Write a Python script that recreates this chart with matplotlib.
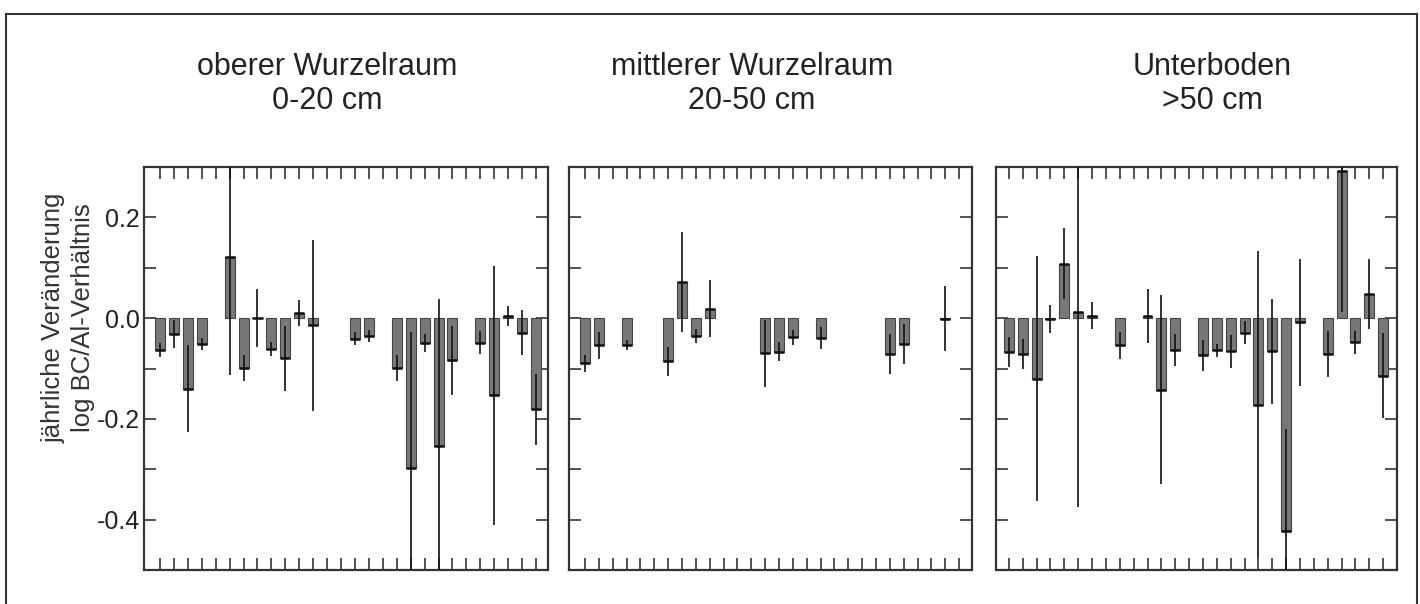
import numpy as np
import matplotlib
matplotlib.use("Agg")
import matplotlib.pyplot as plt
from matplotlib.lines import Line2D

plt.rcParams['font.family'] = ['Liberation Sans', 'DejaVu Sans']

# panel titles
titles = ["oberer Wurzelraum\n0-20 cm",
          "mittlerer Wurzelraum\n20-50 cm",
          "Unterboden\n>50 cm"]

ylabel = "jährliche Veränderung\nlog BC/Al-Verhältnis"

# oberer Wurzelraum 0-20 cm
pos_oben = [0, 1, 2, 3, 5, 6, 7, 8, 9, 10, 11, 14, 15, 17, 18, 19, 20, 21, 23, 24, 25, 26, 27]
val_oben = [-0.063, -0.032, -0.140, -0.051, 0.122, -0.099, 0.0, -0.061, -0.080, 0.010, -0.014,
            -0.041, -0.036, -0.099, -0.297, -0.049, -0.253, -0.084, -0.049, -0.153, 0.004,
            -0.029, -0.181]
err_oben = [0.014, 0.028, 0.086, 0.012, 0.234, 0.026, 0.058, 0.014, 0.064, 0.026, 0.170,
            0.013, 0.012, 0.026, 0.270, 0.018, 0.290, 0.069, 0.023, 0.257, 0.020, 0.045, 0.071]

# mittlerer Wurzelraum 20-50 cm
pos_mitte = [0, 1, 3, 6, 7, 8, 9, 13, 14, 15, 17, 22, 23, 26]
val_mitte = [-0.090, -0.054, -0.054, -0.086, 0.072, -0.036, 0.019, -0.070, -0.067, -0.038,
             -0.040, -0.071, -0.051, -0.001]
err_mitte = [0.017, 0.027, 0.010, 0.029, 0.099, 0.014, 0.056, 0.066, 0.019, 0.015, 0.022,
             0.039, 0.040, 0.064]

# Unterboden >50 cm
pos_unten = [0, 1, 2, 3, 4, 5, 6, 8, 10, 11, 12, 14, 15, 16, 17, 18, 19, 20, 21, 23, 24, 25, 26, 27]
val_unten = [-0.068, -0.071, -0.120, -0.001, 0.108, 0.013, 0.005, -0.054, 0.004, -0.142,
             -0.064, -0.074, -0.064, -0.066, -0.029, -0.172, -0.066, -0.423, -0.008, -0.071,
             0.292, -0.048, 0.048, -0.114]
err_unten = [0.030, 0.030, 0.243, 0.028, 0.070, 0.387, 0.027, 0.027, 0.054, 0.187, 0.032,
             0.030, 0.013, 0.033, 0.023, 0.305, 0.104, 0.203, 0.126, 0.046, 0.280, 0.023,
             0.070, 0.085]

panels = [(pos_oben, val_oben, err_oben),
          (pos_mitte, val_mitte, err_mitte),
          (pos_unten, val_unten, err_unten)]

yticks = [-0.4, -0.3, -0.2, -0.1, 0.0, 0.1, 0.2]
ytick_labels = ["-0.4", "", "-0.2", "", "0.0", "", "0.2"]
n_slots = 28

W, H = 1420, 604
fig = plt.figure(figsize=(W / 100, H / 100), dpi=100)

# axes boxes in pixels: left, right, x limits, title centre
boxes = [(144, 548, (-1.15, 27.86), 327),
         (569, 972, (-1.15, 27.93), 752),
         (996, 1397, (-0.93, 28.0), 1212)]
top_px, bot_px = 167, 570

edge = '#333333'
bar_w = 0.72

for i, ((pos, val, err), (l, r, xlim, tx)) in enumerate(zip(panels, boxes)):
    ax = fig.add_axes([l / W, 1 - bot_px / H, (r - l) / W, (bot_px - top_px) / H])
    pos = np.array(pos)
    val = np.array(val)
    err = np.array(err)

    ax.bar(pos, val, width=bar_w, color='#787878', edgecolor='#444444', linewidth=0.8, zorder=2)
    ax.hlines(val, pos - bar_w / 2, pos + bar_w / 2, color='#111111', lw=1.8, zorder=3)
    ax.vlines(pos, val - err, val + err, color='#111111', lw=1.2, zorder=4)

    ax.set_xlim(*xlim)
    ax.set_ylim(-0.5, 0.3)
    ax.set_xticks(np.arange(n_slots))
    ax.set_xticklabels([])
    ax.set_yticks(yticks)
    if i == 0:
        ax.set_yticklabels(ytick_labels, fontsize=18, color='#222222')
    else:
        ax.set_yticklabels([])
    ax.tick_params(axis='both', direction='in', length=8.5, width=1.2, color=edge,
                   top=True, bottom=True, left=True, right=True, pad=3)
    for s in ax.spines.values():
        s.set_linewidth(1.6)
        s.set_color(edge)

    fig.text(tx / W, 1 - 84 / H, titles[i], ha='center', va='center',
             fontsize=22, color='#222222', linespacing=1.2)

fig.text(68 / W, 1 - 318 / H, ylabel, rotation=90, ha='center', va='center',
         fontsize=18.5, color='#333333', linespacing=1.3)

# outer frame, open at the bottom
fx0, fx1, fy = 6 / W, 1417 / W, 1 - 14 / H
for xs, ys in [([fx0, fx0], [0, fy]), ([fx0, fx1], [fy, fy]), ([fx1, fx1], [fy, 0])]:
    fig.add_artist(Line2D(xs, ys, color='#333333', lw=1.5, transform=fig.transFigure))

fig.savefig("out.png", dpi=100, facecolor='white')
